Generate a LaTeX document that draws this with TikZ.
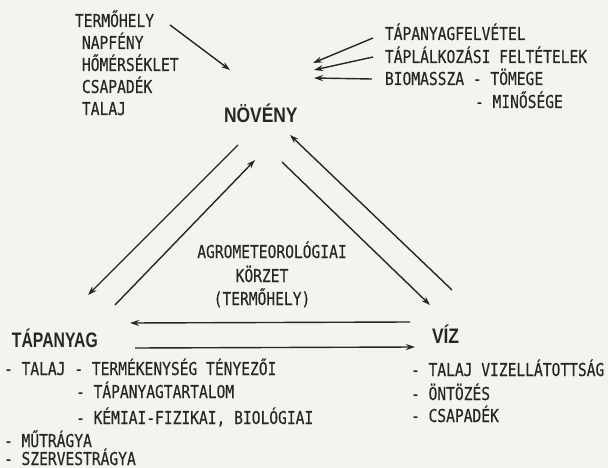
\documentclass[tikz,border=0pt]{standalone}
\usepackage{fontspec}
\newfontfamily\tw[FakeStretch=0.82,FakeBold=0.3]{DejaVu Sans Mono}
\newfontfamily\ttlA[FakeStretch=0.83]{Liberation Sans Bold}
\newfontfamily\ttlB[FakeStretch=0.75]{Liberation Sans Bold}
\usetikzlibrary{arrows.meta}
\definecolor{ink}{HTML}{262626}
\definecolor{paper}{HTML}{F5F3EF}
\begin{document}
\begin{tikzpicture}[x=1pt,y=-1pt,
  txt/.style={inner sep=0pt,outer sep=0pt,anchor=base west,text=ink,font=\tw\fontsize{17.8}{20}\selectfont},
  ctxt/.style={inner sep=0pt,outer sep=0pt,anchor=base,text=ink,font=\tw\fontsize{17.8}{20}\selectfont},
  ttlbox/.style={inner sep=0pt,outer sep=0pt,anchor=base west,text=ink,font=\ttlA\fontsize{21}{24}\selectfont},
  arr/.style={draw=ink,line width=1.4pt,-{Stealth[length=9pt,width=6pt]}}]
\fill[paper] (0,0) rectangle (608,468);
\useasboundingbox (0,0) rectangle (608,468);

% titles
\node[ttlbox] (noveny) at (224,123) {NÖVÉNY};
\node[ttlbox,font=\ttlB\fontsize{21}{24}\selectfont] (tapanyag) at (12,347) {TÁPANYAG};
\node[ttlbox] (viz) at (432,343) {VÍZ};

% top-left list
\node[txt] (t1) at (75,27) {TERMŐHELY};
\node[txt] (t2) at (82,49) {NAPFÉNY};
\node[txt] (t3) at (82,71) {HŐMÉRSÉKLET};
\node[txt] (t4) at (82,93) {CSAPADÉK};
\node[txt] (t5) at (82,115) {TALAJ};

% top-right list
\node[txt] (r1) at (385,40) {TÁPANYAGFELVÉTEL};
\node[txt] (r2) at (385,63) {TÁPLÁLKOZÁSI FELTÉTELEK};
\node[txt] (r3) at (385,85) {BIOMASSZA - TÖMEGE};
\node[txt] (r4) at (475,108) {- MINŐSÉGE};

% centre
\node[ctxt] (c1) at (272,258) {AGROMETEOROLÓGIAI};
\node[ctxt] (c2) at (262,282) {KÖRZET};
\node[ctxt] (c3) at (262,305) {(TERMŐHELY)};

% bottom-left list
\node[txt] (b1) at (4,375) {- TALAJ - TERMÉKENYSÉG TÉNYEZŐI};
\node[txt] (b2) at (76,398) {- TÁPANYAGTARTALOM};
\node[txt] (b3) at (76,424) {- KÉMIAI-FIZIKAI, BIOLÓGIAI};
\node[txt] (b4) at (4,447) {- MŰTRÁGYA};
\node[txt] (b5) at (4,465) {- SZERVESTRÁGYA};

% bottom-right list
\node[txt] (v1) at (411,376) {- TALAJ VIZELLÁTOTTSÁG};
\node[txt] (v2) at (411,400) {- ÖNTÖZÉS};
\node[txt] (v3) at (411,422) {- CSAPADÉK};

% arrow end points
\coordinate (a1s) at (170,25);  \coordinate (a1e) at (230,70);
\coordinate (a2s) at (373,38);  \coordinate (a2e) at (313,63);
\coordinate (a3s) at (373,57);  \coordinate (a3e) at (314,70);
\coordinate (a4s) at (372,79);  \coordinate (a4e) at (314,78);
\coordinate (l1s) at (238,145); \coordinate (l1e) at (88,295);
\coordinate (l2s) at (115,305); \coordinate (l2e) at (255,160);
\coordinate (r1s) at (452,290); \coordinate (r1e) at (290,135);
\coordinate (r2s) at (282,162); \coordinate (r2e) at (430,305);
\coordinate (h1s) at (410,322); \coordinate (h1e) at (130,323);
\coordinate (h2s) at (135,348); \coordinate (h2e) at (415,347);

\draw[arr] (a1s) -- (a1e);
\draw[arr] (a2s) -- (a2e);
\draw[arr] (a3s) -- (a3e);
\draw[arr] (a4s) -- (a4e);
\draw[arr] (l1s) -- (l1e);
\draw[arr] (l2s) -- (l2e);
\draw[arr] (r1s) -- (r1e);
\draw[arr] (r2s) -- (r2e);
\draw[arr] (h1s) -- (h1e);
\draw[arr] (h2s) -- (h2e);
\end{tikzpicture}
\end{document}
